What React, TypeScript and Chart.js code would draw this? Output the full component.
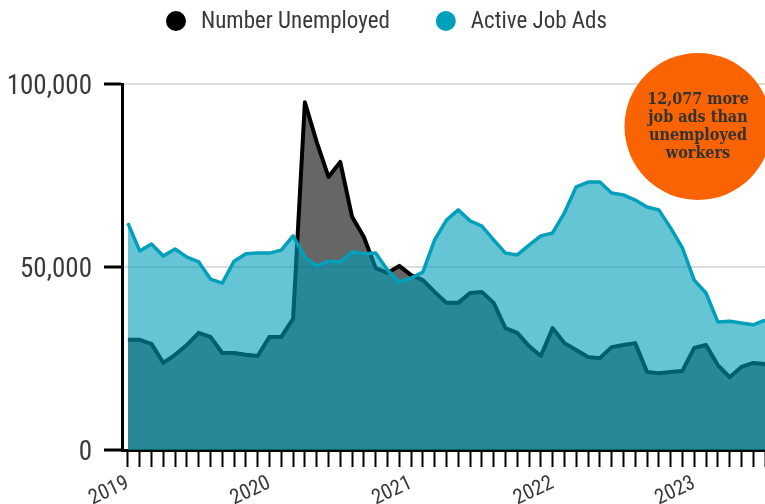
import React, { useEffect, useRef } from 'react';
import { Chart, registerables } from 'chart.js';

Chart.register(...registerables);

// ---------------- data ----------------
// Monthly values, Jan 2019 .. Jul 2023 (index 0 = Jan 2019)
const yearLabels = ['2019', '2020', '2021', '2022', '2023'];
const monthsPerYear = 12;

const unemployed = [
  30100, 30100, 29000, 23800, 26000, 28700, 32000, 30900, 26500, 26500, 26000, 25700,
  30900, 30900, 35800, 95000, 84200, 74600, 78700, 63700, 58200, 49700, 48400, 50300,
  47800, 46400, 43200, 40200, 40200, 42900, 43200, 40200, 33300, 32000, 28400, 25700,
  33300, 29200, 27300, 25400, 25100, 28100, 28700, 29200, 21300, 21000, 21300, 21600,
  27900, 28700, 23200, 19900, 22700, 23800, 23500,
];

const activeJobAds = [
  62000, 54400, 56300, 53000, 54900, 52700, 51400, 46700, 45600, 51600, 53600, 53800,
  53800, 54600, 58500, 52700, 50300, 51600, 51400, 54100, 53600, 53800, 49200, 45900,
  47000, 48600, 57400, 62800, 65600, 62600, 61200, 57400, 53800, 53300, 56000, 58500,
  59300, 64800, 71900, 73200, 73200, 70200, 69700, 68300, 66400, 65600, 60700, 55200,
  46400, 42900, 35000, 35200, 34700, 34200, 35500,
];

const yTicks = [0, 50000, 100000];
const seriesLabels = ['Number Unemployed', 'Active Job Ads'];
const calloutLines = ['12,077 more', 'job ads than', 'unemployed', 'workers'];

// ---------------- styles ----------------
const SANS = '"Roboto Condensed", Roboto, sans-serif';
const SLAB = '"DejaVu Serif Condensed", "DejaVu Serif", serif';
const TEAL_LINE = '#00a0bb';
const TEAL_FILL = 'rgba(0,158,185,0.6)';
const TEXT = '#3a3a3a';

const legendPlugin = {
  id: 'customLegend',
  afterDraw(chart: any) {
    const ctx = chart.ctx as CanvasRenderingContext2D;
    const ds = chart.data.datasets;
    ctx.save();
    ctx.font = `23px ${SANS}`;
    ctx.textBaseline = 'middle';
    const r = 10;
    const gapText = 15;
    const gapItem = 46;
    const widths = ds.map((d: any) => r * 2 + gapText + ctx.measureText(d.label).width);
    const total = widths.reduce((a: number, b: number) => a + b, 0) + gapItem * (ds.length - 1);
    let x = chart.width / 2 + 4 - total / 2;
    const y = 21;
    ds.forEach((d: any, i: number) => {
      ctx.fillStyle = d.legendColor;
      ctx.beginPath();
      ctx.arc(x + r, y, r, 0, Math.PI * 2);
      ctx.fill();
      ctx.fillStyle = TEXT;
      ctx.textAlign = 'left';
      ctx.fillText(d.label, x + r * 2 + gapText, y + 1);
      x += widths[i] + gapItem;
    });
    ctx.restore();
  },
};

const calloutPlugin = {
  id: 'callout',
  afterDraw(chart: any) {
    const ctx = chart.ctx as CanvasRenderingContext2D;
    const a = chart.chartArea;
    const cx = a.right - 67;
    const cy = a.top + 42.5;
    const r = 73.5;
    ctx.save();
    ctx.fillStyle = '#f96302';
    ctx.beginPath();
    ctx.arc(cx, cy, r, 0, Math.PI * 2);
    ctx.fill();
    ctx.fillStyle = '#333333';
    ctx.font = `bold 16px ${SLAB}`;
    ctx.textAlign = 'center';
    ctx.textBaseline = 'middle';
    const lh = 18;
    calloutLines.forEach((t, i) => {
      ctx.fillText(t, cx, cy - ((calloutLines.length - 1) / 2) * lh + i * lh);
    });
    ctx.restore();
  },
};

export default function App() {
  const ref = useRef<HTMLCanvasElement>(null);

  useEffect(() => {
    if (!ref.current) return;
    const chart = new Chart(ref.current, {
      type: 'line',
      data: {
        datasets: [
          {
            label: seriesLabels[0],
            data: unemployed.map((y, i) => ({ x: i, y })),
            borderColor: '#000000',
            backgroundColor: 'rgba(0,0,0,0.6)',
            borderWidth: 4,
            fill: 'origin',
            pointRadius: 0,
            tension: 0,
            borderJoinStyle: 'round',
            order: 2,
            legendColor: '#000000',
          } as any,
          {
            label: seriesLabels[1],
            data: activeJobAds.map((y, i) => ({ x: i, y })),
            borderColor: TEAL_LINE,
            backgroundColor: TEAL_FILL,
            borderWidth: 3.5,
            fill: 'origin',
            pointRadius: 0,
            tension: 0,
            borderJoinStyle: 'round',
            order: 1,
            legendColor: TEAL_LINE,
          } as any,
        ],
      },
      options: {
        animation: false,
        responsive: true,
        maintainAspectRatio: false,
        layout: { padding: { top: 84, left: 0, right: 0, bottom: 0 } },
        plugins: { legend: { display: false }, tooltip: { enabled: false } },
        scales: {
          x: {
            type: 'linear',
            min: -0.5,
            max: unemployed.length - 1,
            afterBuildTicks: (s: any) => {
              s.ticks = unemployed.map((_, i) => ({ value: i }));
            },
            afterFit: (s: any) => {
              s.height = 54;
              s.paddingRight = 0;
              s.paddingLeft = 0;
            },
            grid: { drawOnChartArea: false, drawTicks: true, tickLength: 17, tickColor: '#000', tickWidth: 2 },
            border: { display: true, color: '#000', width: 3 },
            ticks: {
              autoSkip: false,
              minRotation: 25,
              maxRotation: 25,
              padding: 4,
              color: TEXT,
              font: { family: SANS, size: 21 },
              callback: (v: any) => (v % monthsPerYear === 0 ? yearLabels[v / monthsPerYear] : ''),
            },
          },
          y: {
            min: 0,
            max: 100000,
            afterBuildTicks: (s: any) => {
              s.ticks = yTicks.map((v) => ({ value: v }));
            },
            afterFit: (s: any) => {
              s.width = 122;
            },
            grid: { color: '#dddddd', lineWidth: 2, tickColor: '#000', tickWidth: 3, tickLength: 18, drawTicks: true },
            border: { display: true, color: '#000', width: 3 },
            ticks: {
              padding: 12,
              labelOffset: 3,
              color: TEXT,
              font: { family: SANS, size: 27 },
              callback: (v: any) => Number(v).toLocaleString('en-US'),
            },
          },
        },
      },
      plugins: [legendPlugin, calloutPlugin],
    });
    return () => chart.destroy();
  }, []);

  return (
    <div style={{ position: 'fixed', left: 0, top: 0, width: 765, height: 504 }}>
      <canvas ref={ref} />
    </div>
  );
}
